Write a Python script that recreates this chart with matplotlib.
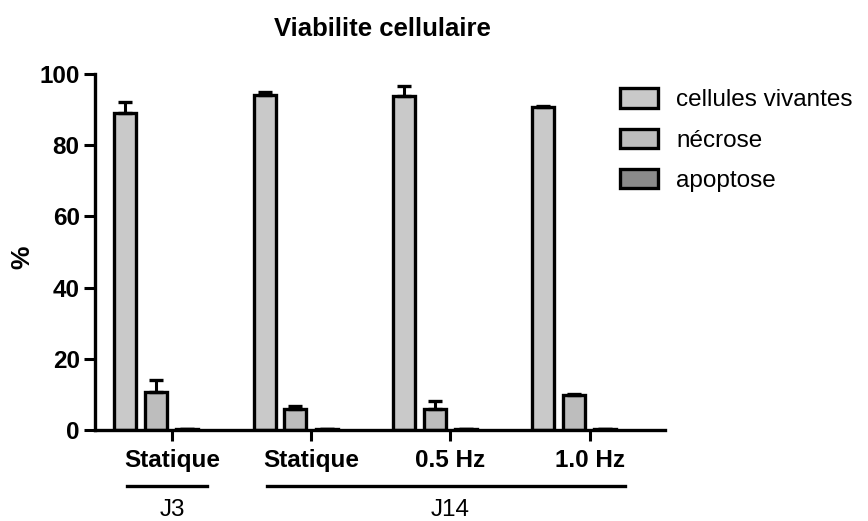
import matplotlib
matplotlib.use("Agg")
import matplotlib.pyplot as plt
import numpy as np

plt.rcParams['font.family'] = ['Liberation Sans', 'DejaVu Sans']

conditions = ["Statique", "Statique", "0.5 Hz", "1.0 Hz"]
series = ["cellules vivantes", "nécrose", "apoptose"]
vivantes = [89.1, 94.1, 93.8, 90.6]
vivantes_err = [3.1, 0.8, 2.8, 0.5]
necrose = [10.8, 5.8, 5.8, 9.9]
necrose_err = [3.3, 1.0, 2.4, 0.2]
apoptose = [0.3, 0.2, 0.2, 0.2]
apoptose_err = [0.0, 0.0, 0.0, 0.0]
periods = ["J3", "J14"]
period_groups = [(0, 0), (1, 3)]

values = [vivantes, necrose, apoptose]
errors = [vivantes_err, necrose_err, apoptose_err]
colors = ["#c9c9c9", "#bdbdbd", "#8a8a8a"]
offsets = [-0.335, -0.113, 0.110]
width = 0.158

fig = plt.figure(figsize=(8.68, 5.21), dpi=100)
ax = fig.add_axes([0.1094, 0.1747, 0.6566, 0.6833])

x = np.arange(len(conditions))
for vals, errs, col, off, name in zip(values, errors, colors, offsets, series):
    ax.bar(x + off, vals, width, color=col, edgecolor="black", linewidth=2.4,
           label=name, zorder=2)
    ax.errorbar(x + off, vals, yerr=[np.zeros(len(errs)), errs], fmt="none",
                ecolor="black", elinewidth=2.2, capsize=5, capthick=2.4, zorder=3)

ax.set_xlim(-0.553, 3.54)
ax.set_ylim(0, 100)
ax.set_yticks([0, 20, 40, 60, 80, 100])
ax.set_xticks(x)
ax.set_xticklabels(conditions, fontsize=17.5, fontweight="bold")
for lab in ax.get_yticklabels():
    lab.set_fontsize(17.5)
    lab.set_fontweight("bold")
ax.tick_params(axis="both", width=2.2, length=8, direction="out")
ax.tick_params(axis="x", pad=6)
ax.tick_params(axis="y", pad=3)
for side in ("top", "right"):
    ax.spines[side].set_visible(False)
for side in ("left", "bottom"):
    ax.spines[side].set_linewidth(2.4)

ax.set_ylabel("%", fontsize=19, fontweight="bold")
ax.yaxis.set_label_coords(-0.106, 0.486)
ax.set_title("Viabilite cellulaire", fontsize=18.5, fontweight="bold", pad=27,
             x=0.505)

# group brackets under the condition labels
trans = ax.get_xaxis_transform()
for name, (a, b) in zip(periods, period_groups):
    ax.plot([a - 0.32, b + 0.25], [-0.157, -0.157], color="black", lw=2.4,
            transform=trans, clip_on=False)
    ax.text((a + b) / 2, -0.225, name, transform=trans, ha="center",
            va="center", fontsize=17.5)

leg = ax.legend(loc="upper left", bbox_to_anchor=(0.892, 1.008), frameon=False,
                fontsize=17.5, handlelength=1.55, handleheight=0.85,
                handletextpad=0.75, labelspacing=0.71, borderaxespad=0.3)
fig.savefig("out.png", dpi=100)
